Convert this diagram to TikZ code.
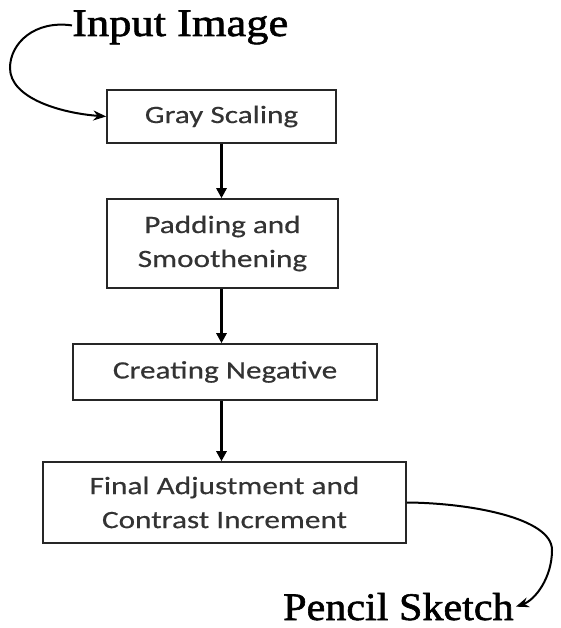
\documentclass[tikz,border=0pt]{standalone}
\usepackage{fontspec}
\newfontfamily\boxfont[FakeStretch=1.25,FakeBold=0.4]{Carlito}
\newfontfamily\titlefont[FakeStretch=1.14,FakeBold=1.5]{Liberation Serif}
\newfontfamily\titlefontb[FakeStretch=1.08,FakeBold=1.5]{Liberation Serif}
\usetikzlibrary{arrows.meta}
\begin{document}
\begin{tikzpicture}[x=1pt,y=1pt,
 stepbox/.style={draw=black!85, line width=1.5pt, fill=white, inner sep=0pt,
   font=\boxfont\fontsize{25}{34}\selectfont, text=black!80, align=center},
 flow/.style={-{Triangle[length=10pt,width=10pt]}, line width=2.5pt},
 curvy/.style={-{Stealth[length=13pt,width=10pt]}, line width=2pt},
 title/.style={inner sep=0pt, anchor=base west}]
\useasboundingbox (0,0) rectangle (561,628);
\node[stepbox, minimum width=229pt, minimum height=53pt] (g) at (221.5,511.5) {Gray Scaling};
\node[stepbox, minimum width=231pt, minimum height=89pt] (p) at (222.5,384.5) {Padding and\\Smoothening};
\node[stepbox, minimum width=304pt, minimum height=56pt] (c) at (225,256) {Creating Negative};
\node[stepbox, minimum width=363pt, minimum height=81pt] (f) at (224.5,125.5) {Final Adjustment and\\Contrast Increment};
\node[title, font=\titlefont\fontsize{39}{39}\selectfont] (in) at (72,592) {Input Image};
\node[title, font=\titlefontb\fontsize{39}{39}\selectfont] (ps) at (283,8) {Pencil Sketch};
\draw[flow] (g.south) -- (g.south |- p.north);
\draw[flow] (g.south |- p.south) -- (g.south |- c.north);
\draw[flow] (g.south |- c.south) -- (g.south |- f.north);
\draw[curvy] ([yshift=2pt]in.west) .. controls (35,608) and (10,585) .. (10,560) .. controls (10,530) and (60,515) .. (g.west);
\draw[curvy] (f.east) .. controls (470,125) and (552,110) .. (552,78) .. controls (552,50) and (535,28) .. ([xshift=2pt]ps.east);
\end{tikzpicture}
\end{document}
